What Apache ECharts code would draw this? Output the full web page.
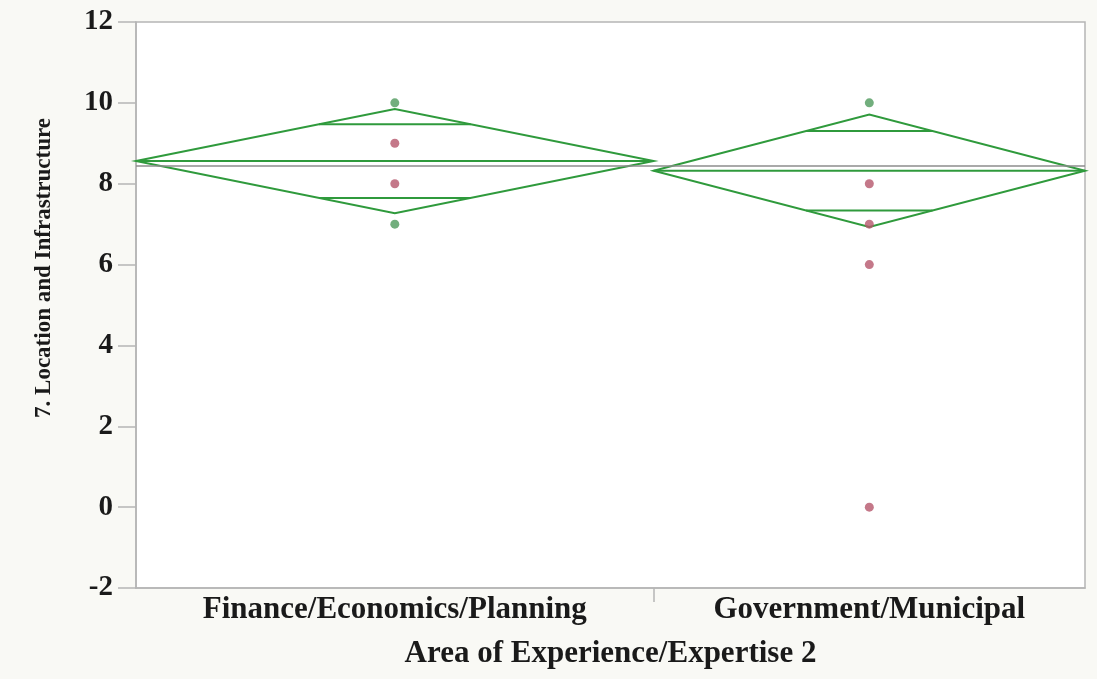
<!DOCTYPE html>
<html>
<head>
<meta charset="utf-8">
<script src="https://cdn.jsdelivr.net/npm/echarts@6/dist/echarts.min.js"></script>
<style>
  html, body { margin: 0; padding: 0; background: #f9f9f5; }
  #chart { width: 1097px; height: 679px; }
</style>
</head>
<body>
<div id="chart"></div>
<script>
// groups on the x axis, widths proportional to group size (JMP style)
var categories = ['Finance/Economics/Planning', 'Government/Municipal'];
var groupSizes = [6, 5];

// means diamonds: group mean and 95% CI half width
var groupMeans = [8.56, 8.32];
var ciHalfWidths = [1.29, 1.39];
var grandMean = 8.44;

// observations, [group index, value]
var greenPoints = [[0, 10], [0, 7], [1, 10]];
var redPoints = [[0, 9], [0, 8], [1, 8], [1, 7], [1, 6], [1, 0]];

var yTicks = [-2, 0, 2, 4, 6, 8, 10, 12];

// group start / centre positions on the value x axis
var starts = [], centers = [], total = 0;
groupSizes.forEach(function(n) {
    starts.push(total);
    centers.push(total + n / 2);
    total += n;
});

var serif = '"Liberation Serif", "Times New Roman", serif';
var green = '#2f9a3c';

function toXY(list) {
    return list.map(function(p) { return [centers[p[0]], p[1]]; });
}

function renderDiamond(params, api) {
    var i = api.value(0);
    var x0 = starts[i], x1 = starts[i] + groupSizes[i], xc = centers[i];
    var m = groupMeans[i], h = ciHalfWidths[i];
    var d = h / Math.SQRT2;                 // overlap marks
    var f = (1 - d / h) * (x1 - x0) / 2;
    var L = api.coord([x0, m]), R = api.coord([x1, m]);
    var T = api.coord([xc, m + h]), B = api.coord([xc, m - h]);
    var oa = api.coord([xc - f, m + d]), ob = api.coord([xc + f, m + d]);
    var oc = api.coord([xc - f, m - d]), od = api.coord([xc + f, m - d]);
    var st = { stroke: green, lineWidth: 2, fill: null };
    return {
        type: 'group',
        children: [
            { type: 'polygon', shape: { points: [L, T, R, B] }, style: st },
            { type: 'line', shape: { x1: L[0], y1: L[1], x2: R[0], y2: R[1] }, style: st },
            { type: 'line', shape: { x1: oa[0], y1: oa[1], x2: ob[0], y2: ob[1] }, style: st },
            { type: 'line', shape: { x1: oc[0], y1: oc[1], x2: od[0], y2: od[1] }, style: st }
        ]
    };
}

var chart = echarts.init(document.getElementById('chart'));

chart.setOption({
    backgroundColor: '#f9f9f5',
    animation: false,
    grid: {
        left: 136, right: 12, top: 22, bottom: 91,
        show: true, backgroundColor: '#ffffff',
        borderColor: '#b5b5b5', borderWidth: 1.5
    },
    xAxis: {
        type: 'value',
        min: 0,
        max: total,
        name: 'Area of Experience/Expertise 2',
        nameLocation: 'middle',
        nameGap: 50,
        nameTextStyle: { fontFamily: serif, fontWeight: 'bold', fontSize: 31, color: '#1a1a1a' },
        axisLine: { show: true, onZero: false, lineStyle: { color: '#b5b5b5', width: 1.5 } },
        axisTick: {
            show: true, length: 14,
            customValues: starts.slice(1),
            lineStyle: { color: '#b5b5b5', width: 1.5 }
        },
        axisLabel: {
            customValues: centers,
            margin: 6,
            fontFamily: serif, fontWeight: 'bold', fontSize: 31, color: '#1a1a1a',
            formatter: function(v) {
                var k = centers.indexOf(v);
                return k >= 0 ? categories[k] : '';
            }
        },
        splitLine: { show: false }
    },
    yAxis: {
        type: 'value',
        min: yTicks[0],
        max: yTicks[yTicks.length - 1],
        interval: 2,
        name: '7. Location and Infrastructure',
        nameLocation: 'middle',
        nameRotate: 90,
        nameGap: 80,
        nameTextStyle: {
            fontFamily: serif, fontWeight: 'bold', fontSize: 23, color: '#1a1a1a',
            padding: [0, 0, 0, 74]
        },
        axisLine: { show: true, onZero: false, lineStyle: { color: '#b5b5b5', width: 1.5 } },
        axisTick: { show: true, length: 18, lineStyle: { color: '#b5b5b5', width: 1.5 } },
        axisLabel: {
            margin: 23,
            fontFamily: serif, fontWeight: 'bold', fontSize: 29, color: '#1a1a1a'
        },
        splitLine: { show: false }
    },
    series: [
        {
            type: 'custom',
            renderItem: renderDiamond,
            data: categories.map(function(c, i) { return [i]; }),
            markLine: {
                silent: true,
                symbol: 'none',
                label: { show: false },
                lineStyle: { color: '#8c8c8c', width: 1.5, type: 'solid' },
                data: [{ yAxis: grandMean }]
            },
            z: 2
        },
        {
            type: 'scatter',
            data: toXY(greenPoints),
            symbolSize: 9,
            itemStyle: { color: '#4f9a5c' },
            z: 3
        },
        {
            type: 'scatter',
            data: toXY(redPoints),
            symbolSize: 9,
            itemStyle: { color: '#b5566b' },
            z: 3
        }
    ]
});
</script>
</body>
</html>
